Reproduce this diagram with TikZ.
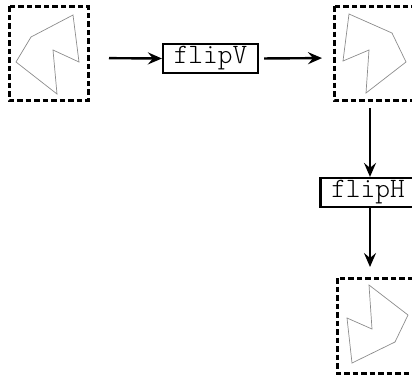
\documentclass[tikz,border=0pt]{standalone}
\usepackage{fontspec}
\newfontfamily\opfont{Latin Modern Mono Light}
\usetikzlibrary{arrows.meta}
\tikzset{
  frame/.style={draw=black, line width=3pt, dash pattern=on 5.5pt off 3pt},
  outline/.style={draw=black!45, line width=0.7pt, line join=miter},
  opbox/.style={draw=black, line width=2.2pt, minimum width=95pt, minimum height=29pt,
    inner sep=0pt, font=\opfont\fontsize{28}{28}\selectfont},
  flow/.style={line width=2.4pt, -{Stealth[length=14pt,width=12pt,inset=5pt]}}
}
\begin{document}
\begin{tikzpicture}[x=1pt,y=-1pt]
\useasboundingbox (0,0) rectangle (412,376);
% the three frames holding the figure
\draw[frame] (9,6) rectangle (88,100);
\coordinate (src) at (88,58);
\draw[frame] (334,6) rectangle (413,100);
\coordinate (midW) at (334,58);
\coordinate (midS) at (370,100);
\draw[frame] (337,278) rectangle (416,373);
\coordinate (dstN) at (370,278);
% original figure
\draw[outline] (31,37) -- (73,15) -- (79,62) -- (53,50) -- (57,94) -- (16,62) -- cycle;
% after flipV
\draw[outline] (349,14) -- (392,33) -- (406,62) -- (366,93) -- (369,50) -- (343,61) -- cycle;
% after flipH
\draw[outline] (369,285) -- (408,315) -- (395,342) -- (352,363) -- (347,318) -- (372,329) -- cycle;
% operations
\node[opbox] (fv) at (210.5,58.5) {flipV};
\node[opbox] (fh) at (368,192.5) {flipH};
% connectors
\draw[flow, shorten <=21pt] (src) -- (fv.west);
\draw[flow, shorten <=5pt, shorten >=12pt] (fv.east) -- (midW);
\draw[flow, shorten <=8pt] (midS) -- (fh.north -| midS);
\draw[flow, shorten >=11pt] (fh.south -| dstN) -- (dstN);
\end{tikzpicture}
\end{document}
